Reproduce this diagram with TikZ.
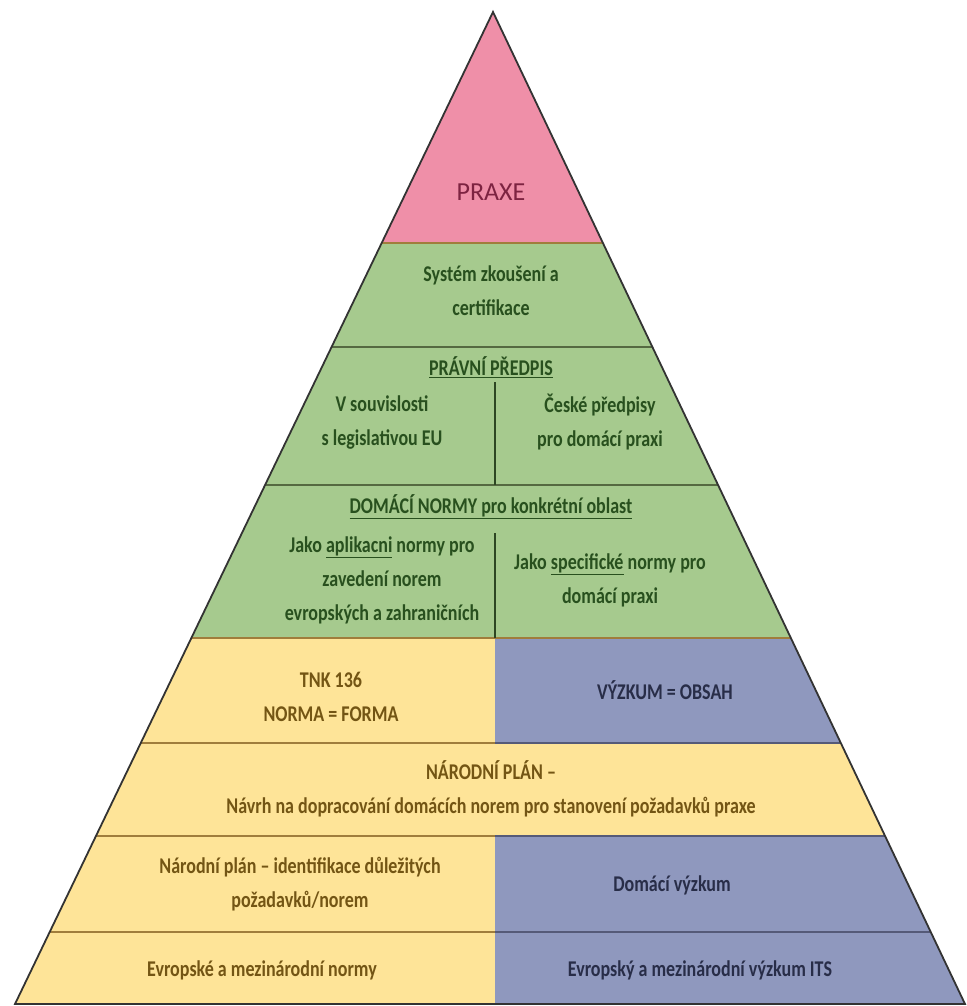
\documentclass[tikz,border=0pt]{standalone}
\usepackage{fontspec}
\setmainfont{Carlito}[FakeStretch=0.80]
\newfontfamily\praxefont{Carlito}
\usetikzlibrary{calc}

\definecolor{praxepink}{RGB}{239,143,168}
\definecolor{normgreen}{RGB}{166,202,142}
\definecolor{planyellow}{RGB}{254,228,152}
\definecolor{researchblue}{RGB}{143,152,190}
\definecolor{praxetext}{RGB}{125,35,65}
\definecolor{greentext}{RGB}{40,80,30}
\definecolor{yellowtext}{RGB}{115,85,20}
\definecolor{bluetext}{RGB}{40,45,72}

\begin{document}
\begin{tikzpicture}[
        x=1pt, y=-1pt,
        outline/.style={draw=black!80, line width=1.8pt, line join=miter},
        sepgreen/.style={draw={rgb,255:red,85;green,105;blue,65}, line width=2.6pt},
        sepbrown/.style={draw={rgb,255:red,160;green,125;blue,60}, line width=2.6pt},
        sepblue/.style={draw={rgb,255:red,85;green,90;blue,120}, line width=2.6pt},
        divider/.style={draw={rgb,255:red,45;green,70;blue,35}, line width=1.2pt},
        lbl/.style={font=\bfseries\fontsize{22.5}{34}\selectfont, align=center, inner sep=0pt},
        greenlbl/.style={lbl, text=greentext},
        yellowlbl/.style={lbl, text=yellowtext},
        bluelbl/.style={lbl, text=bluetext}
    ]
    \useasboundingbox (0,0) rectangle (966,1006);
    \coordinate (apex) at (493,12);
    \coordinate (bl) at (15,1004);
    \coordinate (br) at (965,1004);

    % bands inside the pyramid
    \begin{scope}
        \clip (apex) -- (bl) -- (br) -- cycle;
        \fill[praxepink] (0,0) rectangle (966,243);
        \fill[normgreen] (0,243) rectangle (966,638);
        \fill[planyellow] (0,638) rectangle (966,1004);
        \fill[researchblue] (495,638) rectangle (966,743);
        \fill[researchblue] (495,836) rectangle (966,1004);
        \draw[sepbrown] (0,243) -- (966,243);
        \draw[sepgreen] (0,347) -- (966,347);
        \draw[sepgreen] (0,485) -- (966,485);
        \draw[sepbrown] (0,638) -- (966,638);
        \draw[sepbrown] (0,743) -- (495,743);
        \draw[sepblue] (495,743) -- (966,743);
        \draw[sepbrown] (0,836) -- (495,836);
        \draw[sepblue] (495,836) -- (966,836);
        \draw[sepbrown] (0,932) -- (495,932);
        \draw[sepblue] (495,932) -- (966,932);
        \draw[divider] (495,382) -- (495,485);
        \draw[divider] (495,533) -- (495,638);
    \end{scope}
    \draw[outline] (apex) -- (bl) -- (br) -- cycle;

    % texts
    \node[font=\praxefont\fontsize{26}{30}\selectfont, text=praxetext, inner sep=0pt] (praxe) at (491,192) {PRAXE};
    \node[greenlbl] (zkouseni) at (491,291) {Systém zkoušení a\\certifikace};
    \node[greenlbl] (pravni) at (491,367) {\underline{PRÁVNÍ PŘEDPIS}};
    \node[greenlbl] (pravniEU) at (382,422) {V souvislosti\\s legislativou EU};
    \node[greenlbl] (pravniCZ) at (600,422) {České předpisy\\pro domácí praxi};
    \node[greenlbl] (domaci) at (491,507) {\underline{DOMÁCÍ NORMY pro konkrétní oblast}};
    \node[greenlbl] (aplikacni) at (382,580) {Jako \underline{aplikacni} normy pro\\zavedení norem\\evropských a zahraničních};
    \node[greenlbl] (specificke) at (610,580) {Jako \underline{specifické} normy pro\\domácí praxi};
    \node[yellowlbl] (tnk) at (331,697) {TNK 136\\NORMA = FORMA};
    \node[bluelbl] (vyzkum) at (665,690) {VÝZKUM = OBSAH};
    \node[yellowlbl] (narplan) at (491,789) {NÁRODNÍ PLÁN –\\Návrh na dopracování domácích norem pro stanovení požadavků praxe};
    \node[yellowlbl] (identif) at (300,884) {Národní plán – identifikace důležitých\\požadavků/norem};
    \node[bluelbl] (domvyzkum) at (672,885) {Domácí výzkum};
    \node[yellowlbl] (evnormy) at (262,970) {Evropské a mezinárodní normy};
    \node[bluelbl] (evvyzkum) at (700,970) {Evropský a mezinárodní výzkum ITS};
\end{tikzpicture}
\end{document}
